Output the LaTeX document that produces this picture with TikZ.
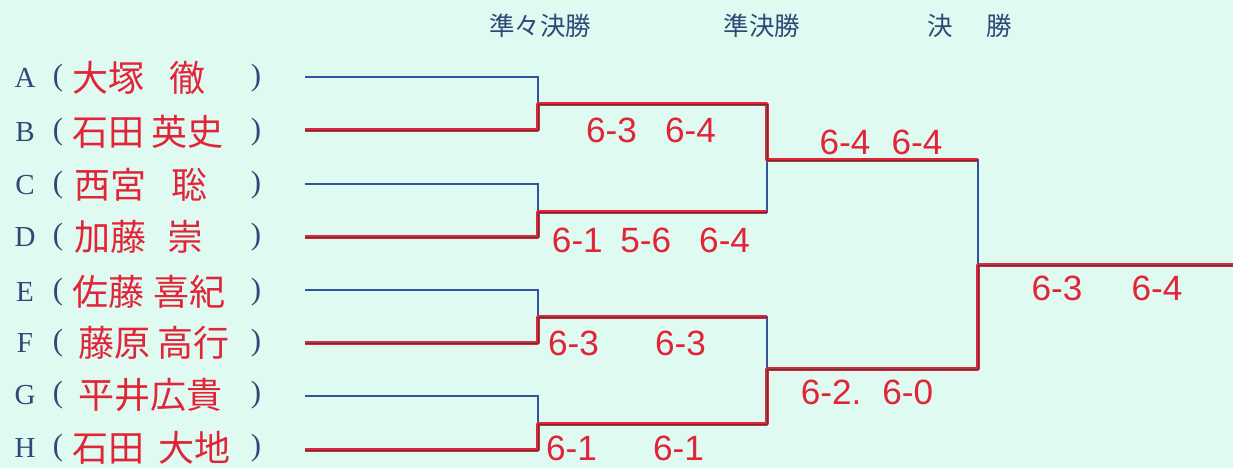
\documentclass[tikz,border=0pt]{standalone}
\usepackage{fontspec}
\setmainfont{Liberation Serif}
\newfontfamily\cjk{Noto Sans CJK JP}
\newfontfamily\hand{Liberation Sans}
\definecolor{bg}{RGB}{223,250,240}
\definecolor{lineblue}{RGB}{52,82,160}
\definecolor{ink}{RGB}{48,72,120}
\definecolor{pen}{RGB}{226,36,56}
\begin{document}
\begin{tikzpicture}[x=0.02cm,y=-0.02cm,
  bl/.style={draw=lineblue, line width=1.1pt},
  win/.style={draw=pen, double=black!75, double distance=0.5pt, line width=0.8pt, line join=round},
  lettr/.style={text=ink, font=\fontsize{16.5}{17}\selectfont},
  paren/.style={text=ink, font=\fontsize{17.5}{18}\selectfont},
  pname/.style={anchor=west, text=pen, font=\cjk\fontsize{20.5}{22}\selectfont},
  score/.style={text=pen, font=\hand\fontsize{20}{20}\selectfont},
  head/.style={text=ink, font=\cjk\fontsize{14.5}{15}\selectfont}]
\fill[bg] (0,0) rectangle (1233,468);
\useasboundingbox (0,0) rectangle (1233,468);
% headers
\node[head] (hd1) at (540,26) {準々決勝};
\node[head] (hd2) at (762,26) {準決勝};
\node[head] (hd3) at (970,26) {決\hspace{1.3em}勝};
% letters, parentheses, names
\foreach \L/\y in {A/78,B/132,C/185,D/237,E/292,F/343,G/395,H/448}{
  \node[lettr] (L\L) at (25,\y) {\L};
  \node[paren] (po\L) at (58,\y) {(};
  \node[paren] (pc\L) at (256,\y) {)};
}
\node[pname] (nA) at (66,78) {大塚\hspace{0.7em}徹};
\node[pname] (nB) at (66,132) {石田\hspace{0.2em}英史};
\node[pname] (nC) at (68,185) {西宮\hspace{0.7em}聡};
\node[pname] (nD) at (68,237) {加藤\hspace{0.6em}崇};
\node[pname] (nE) at (66,292) {佐藤\hspace{0.25em}喜紀};
\node[pname] (nF) at (72,343) {藤原\hspace{0.2em}高行};
\node[pname] (nG) at (72,395) {平井広貴};
\node[pname] (nH) at (66,448) {石田\hspace{0.4em}大地};
% bracket coordinates
\coordinate (a0) at (305,77);
\coordinate (b0) at (305,130);
\coordinate (c0) at (305,184);
\coordinate (d0) at (305,237);
\coordinate (e0) at (305,290);
\coordinate (f0) at (305,343);
\coordinate (g0) at (305,396);
\coordinate (h0) at (305,450);
\coordinate (q1) at (538,104);
\coordinate (q2) at (538,212);
\coordinate (q3) at (538,317);
\coordinate (q4) at (538,424);
\coordinate (s1) at (767,160);
\coordinate (s2) at (767,369);
\coordinate (fin) at (978,265);
\coordinate (fe) at (1233,265);
\coordinate (t1) at (978,160);
\coordinate (q2e) at (767,212);
\coordinate (q3e) at (767,317);
% blue bracket
\draw[bl] (a0) -| (q1) |- (b0);
\draw[bl] (c0) -| (q2) |- (d0);
\draw[bl] (e0) -| (q3) |- (f0);
\draw[bl] (g0) -| (q4) |- (h0);
\draw[bl] (q1) -| (s1) |- (q2);
\draw[bl] (q3) -| (s2) |- (q4);
\draw[bl] (s1) -| (fin) |- (s2);
\draw[bl] (fin) -- (fe);
% winners in red
\draw[win] (b0) -| (q1) -| (s1) -- (t1);
\draw[win] (d0) -| (q2) -- (q2e);
\draw[win] (f0) -| (q3) -- (q3e);
\draw[win] (h0) -| (q4) -| (s2) -| (fin) -- (fe);
% scores
\node[score] (sc1) at (651,130) {6-3\hspace{0.8em}6-4};
\node[score] (sc2) at (651,240) {6-1\hspace{0.5em}5-6\hspace{0.8em}6-4};
\node[score] (sc3) at (627,343) {6-3\hspace{1.6em}6-3};
\node[score] (sc4) at (625,448) {6-1\hspace{1.6em}6-1};
\node[score] (sc5) at (881,142) {6-4\hspace{0.6em}6-4};
\node[score] (sc6) at (867,392) {6-2.\hspace{0.6em}6-0};
\node[score] (sc7) at (1107,288) {6-3\hspace{1.4em}6-4};
\end{tikzpicture}
\end{document}
